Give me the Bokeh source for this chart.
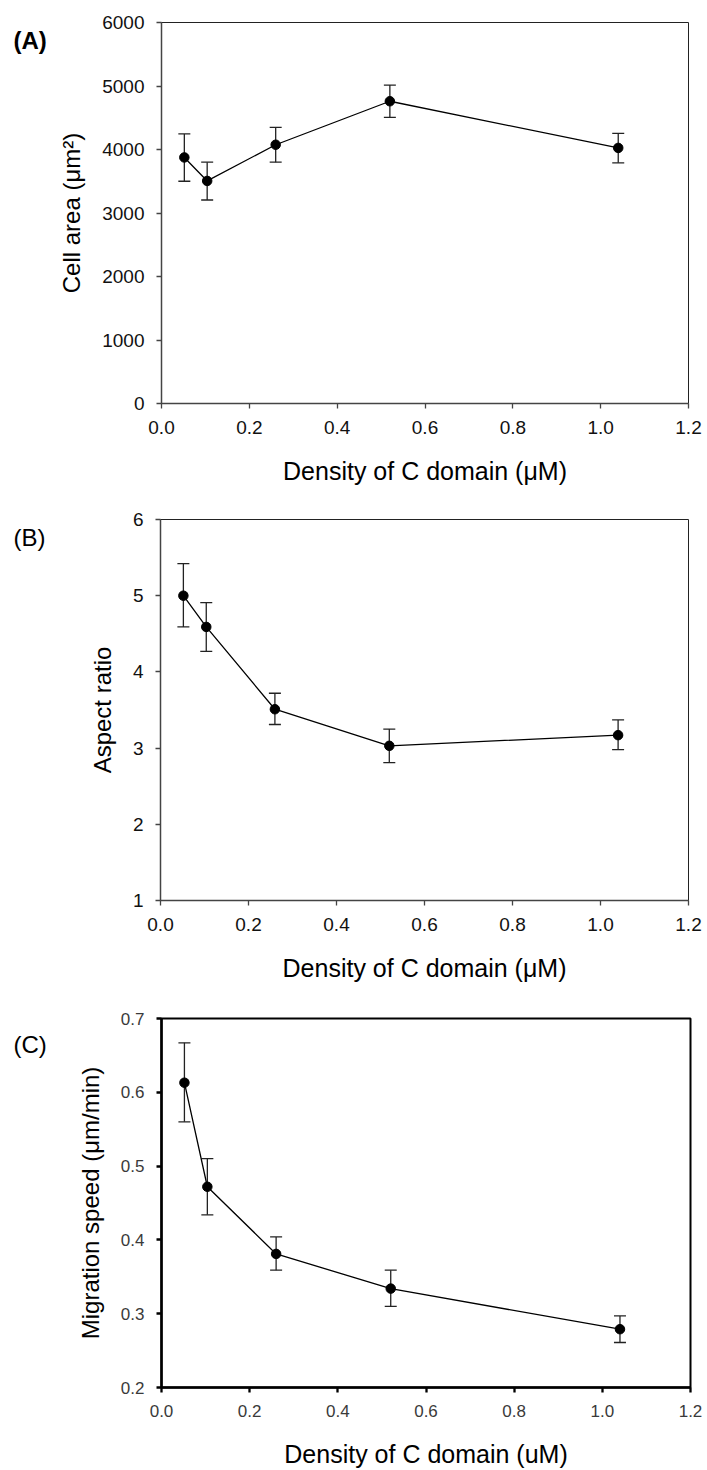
from bokeh.plotting import figure
from bokeh.layouts import column, row
from bokeh.models import (Range1d, FixedTicker, NumeralTickFormatter, Whisker,
                          TeeHead, ColumnDataSource, Label)
from bokeh.embed import file_html
from bokeh.resources import INLINE

# ---- data ----
density = [0.052, 0.104, 0.26, 0.52, 1.04]

cell_area = [3875, 3505, 4075, 4760, 4025]
cell_area_lo = [3500, 3205, 3800, 4505, 3790]
cell_area_hi = [4245, 3800, 4350, 5015, 4255]

aspect_ratio = [5.00, 4.59, 3.51, 3.03, 3.17]
aspect_ratio_lo = [4.59, 4.27, 3.31, 2.81, 2.98]
aspect_ratio_hi = [5.42, 4.91, 3.72, 3.25, 3.37]

speed = [0.613, 0.472, 0.381, 0.334, 0.279]
speed_lo = [0.560, 0.434, 0.359, 0.310, 0.261]
speed_hi = [0.667, 0.510, 0.404, 0.359, 0.297]

x_ticks = [0.0, 0.2, 0.4, 0.6, 0.8, 1.0, 1.2]
area_ticks = [0, 1000, 2000, 3000, 4000, 5000, 6000]
aspect_ticks = [1, 2, 3, 4, 5, 6]
speed_ticks = [0.2, 0.3, 0.4, 0.5, 0.6, 0.7]

FONT = "Liberation Sans"
TAG_W = 55


def make_tag(text, bold, height, y_center):
    t = figure(width=TAG_W, height=height, output_backend="svg", toolbar_location=None,
               x_range=Range1d(0, TAG_W), y_range=Range1d(height, 0),
               x_axis_location=None, y_axis_location=None,
               min_border=0, min_border_left=0, min_border_right=0,
               min_border_top=0, min_border_bottom=0)
    t.outline_line_color = None
    t.xgrid.visible = False
    t.ygrid.visible = False
    t.background_fill_color = "white"
    t.border_fill_color = "white"
    t.add_layout(Label(x=13, y=y_center, text=text, text_font=FONT, text_font_size="24px",
                       text_font_style="bold" if bold else "normal",
                       text_align="left", text_baseline="middle", text_color="black"))
    return t


def make_panel(vals, lo, hi, yr, yticks, yfmt, ytitle, xtitle,
               height, top, bottom, left, right, tick_size, tick_color,
               frame_w, frame_color, axis_color):
    p = figure(width=707 - TAG_W, height=height, output_backend="svg", toolbar_location=None,
               x_range=Range1d(0, 1.2), y_range=Range1d(*yr),
               min_border_top=top, min_border_bottom=bottom,
               min_border_left=left - TAG_W, min_border_right=right)
    p.background_fill_color = "white"
    p.border_fill_color = "white"
    p.outline_line_color = frame_color
    p.outline_line_width = frame_w
    p.xgrid.visible = False
    p.ygrid.visible = False

    for ax in (p.xaxis[0], p.yaxis[0]):
        ax.axis_line_color = axis_color
        ax.axis_line_width = frame_w + 0.5
        ax.major_tick_line_color = axis_color
        ax.major_tick_line_width = frame_w + 0.3
        ax.major_tick_out = 5
        ax.major_tick_in = 0
        ax.minor_tick_line_color = None
        ax.major_label_text_font = FONT
        ax.major_label_text_font_size = tick_size
        ax.major_label_text_color = tick_color
        ax.major_label_standoff = 12
        ax.axis_label_text_font = FONT
        ax.axis_label_text_font_style = "normal"
        ax.axis_label_text_color = "black"
    p.xaxis[0].axis_label_text_font_size = "25px"
    p.xaxis[0].axis_label_standoff = 20
    p.yaxis[0].axis_label_text_font_size = "24px"
    p.yaxis[0].axis_label_standoff = 14

    p.xaxis[0].ticker = FixedTicker(ticks=x_ticks)
    p.xaxis[0].formatter = NumeralTickFormatter(format="0.0")
    p.yaxis[0].ticker = FixedTicker(ticks=yticks)
    p.yaxis[0].formatter = NumeralTickFormatter(format=yfmt)
    p.xaxis[0].axis_label = xtitle
    p.yaxis[0].axis_label = ytitle

    src = ColumnDataSource(dict(x=density, y=vals, lo=lo, hi=hi))
    w = Whisker(base="x", upper="hi", lower="lo", source=src,
                line_color="#222222", line_width=1.3,
                upper_head=TeeHead(size=12, line_color="#222222", line_width=1.3),
                lower_head=TeeHead(size=12, line_color="#222222", line_width=1.3))
    p.add_layout(w)
    p.line("x", "y", source=src, line_color="black", line_width=1.3)
    p.scatter("x", "y", source=src, size=9.5, fill_color="black", line_color="black")
    return p


hA, hB, hC = 495, 498, 477

pA = make_panel(cell_area, cell_area_lo, cell_area_hi, (0, 6000), area_ticks, "0",
                "Cell area (μm²)", "Density of C domain (μM)",
                hA, 22, 92, 160, 19, "19px", "#111111", 1, "#222222", "#444444")
pB = make_panel(aspect_ratio, aspect_ratio_lo, aspect_ratio_hi, (1, 6), aspect_ticks, "0",
                "Aspect ratio", "Density of C domain (μM)",
                hB, 24, 93, 160, 19, "19px", "#111111", 1, "#222222", "#444444")
pC = make_panel(speed, speed_lo, speed_hi, (0.2, 0.7), speed_ticks, "0.0",
                "Migration speed (μm/min)", "Density of C domain (uM)",
                hC, 25, 83, 161, 17, "17px", "#3a3a3a", 2, "black", "black")

tA = make_tag("(A)", True, hA, 23)
tB = make_tag("(B)", False, hB, 24)
tC = make_tag("(C)", False, hC, 34)

layout = column(row(tA, pA, spacing=0), row(tB, pB, spacing=0), row(tC, pC, spacing=0),
                spacing=0)

open("out.html", "w").write(file_html(layout, INLINE))
